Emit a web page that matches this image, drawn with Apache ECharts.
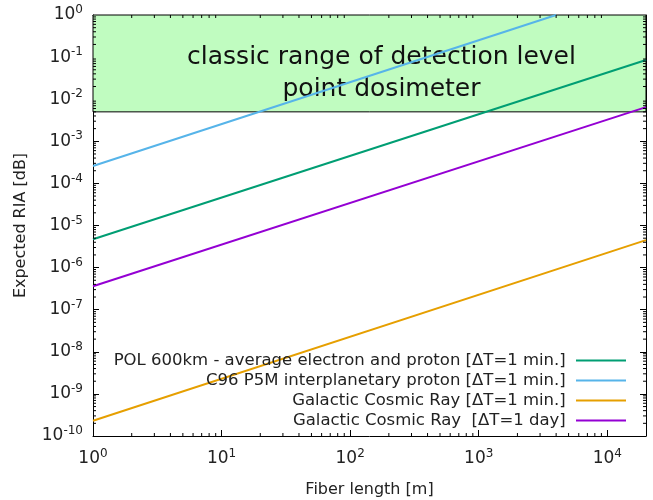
<!DOCTYPE html>
<html>
<head>
<meta charset="utf-8">
<script src="https://cdn.jsdelivr.net/npm/echarts@6/dist/echarts.min.js"></script>
<style>
  html, body { margin: 0; padding: 0; background: #fff; }
</style>
</head>
<body>
<div id="chart" style="width: 653px;height: 500px;"></div>
<script>
// fiber length end points [m] and expected RIA [dB]
var lengthEnds = [1, 20000];
var polValues = [4.7e-6, 0.085];
var c96Lengths = [1, 4000];
var c96Values = [2.6e-4, 1];
var gcrMinValues = [2.3e-10, 4.5e-6];
var gcrDayValues = [3.6e-7, 6.5e-3];

var seriesNames = [
    'POL 600km - average electron and proton [ΔT=1 min.]',
    'C96 P5M interplanetary proton [ΔT=1 min.]',
    'Galactic Cosmic Ray [ΔT=1 min.]',
    'Galactic Cosmic Ray  [ΔT=1 day]'
];
var seriesColors = ['#009e73', '#56b4e9', '#e69f00', '#9400d3'];

// detection band of a classic point dosimeter
var bandLow = 5e-3;
var bandHigh = 1;
var bandText = 'classic range of detection level\npoint dosimeter';

var xMin = 1, xMax = 20000;
var yMin = 1e-10, yMax = 1;

function pairs(xs, ys) {
    return xs.map(function (x, i) { return [x, ys[i]]; });
}

// minor ticks 2..9 x 10^k inside the axis ranges
function minorTicks(lo, hi) {
    var out = [];
    for (var e = Math.floor(Math.log10(lo)); e <= Math.ceil(Math.log10(hi)); e++) {
        for (var m = 2; m <= 9; m++) {
            var v = m * Math.pow(10, e);
            if (v > lo && v < hi) out.push(v);
        }
    }
    return out;
}
var xMinor = minorTicks(xMin, xMax);
var yMinor = minorTicks(yMin, yMax);

function powLabel(v) {
    var e = Math.log10(v);
    var r = Math.round(e);
    if (Math.abs(e - r) > 1e-6) return '';
    return '{b|10}{s|' + r + '}';
}

var labelRich = {
    b: { fontSize: 17, fontFamily: 'DejaVu Sans', color: '#222' },
    s: { fontSize: 12, fontFamily: 'DejaVu Sans', color: '#222', padding: [0, 0, 10, 0] }
};

var myChart = echarts.init(document.getElementById('chart'));

function logAxis(pos, min, max, showLabel) {
    return {
        type: 'log',
        logBase: 10,
        position: pos,
        min: min,
        max: max,
        interval: 1,
        axisLine: { show: true, lineStyle: { color: '#000', width: 1 } },
        axisTick: { show: true, inside: true, length: 6, lineStyle: { color: '#000' } },
        splitLine: { show: false },
        axisLabel: {
            show: showLabel,
            formatter: powLabel,
            rich: labelRich,
            showMaxLabel: true
        }
    };
}

var xBottom = logAxis('bottom', xMin, xMax, true);
xBottom.name = 'Fiber length [m]';
xBottom.nameLocation = 'middle';
xBottom.nameGap = 46;
xBottom.nameTextStyle = { fontSize: 16, fontFamily: 'DejaVu Sans', color: '#222' };
xBottom.axisLabel.margin = 12;
var xTop = logAxis('top', xMin, xMax, false);

var yLeft = logAxis('left', yMin, yMax, true);
yLeft.name = 'Expected RIA [dB]';
yLeft.nameLocation = 'middle';
yLeft.nameGap = 64;
yLeft.nameTextStyle = { fontSize: 16, fontFamily: 'DejaVu Sans', color: '#222' };
yLeft.axisLabel.margin = 10;
var yRight = logAxis('right', yMin, yMax, false);

var lineData = [
    pairs(lengthEnds, polValues),
    pairs(c96Lengths, c96Values),
    pairs(lengthEnds, gcrMinValues),
    pairs(lengthEnds, gcrDayValues)
];

var series = [{
    name: 'band',
    type: 'line',
    data: [],
    z: 1,
    markArea: {
        silent: true,
        itemStyle: { color: '#c0fcc0', borderColor: '#000', borderWidth: 1 },
        label: {
            show: true,
            position: 'inside',
            offset: [12, 10],
            fontSize: 25,
            lineHeight: 32,
            fontFamily: 'DejaVu Sans',
            color: '#111'
        },
        data: [[
            { name: bandText, xAxis: xMin, yAxis: bandLow },
            { xAxis: xMax, yAxis: bandHigh }
        ]]
    }
}];

seriesNames.forEach(function (name, i) {
    series.push({
        name: name,
        type: 'line',
        data: lineData[i],
        symbol: 'none',
        z: 3,
        color: seriesColors[i],
        lineStyle: { width: 2, color: seriesColors[i] },
        animation: false
    });
});

// minor ticks drawn through the axes' own scales
series.push({
    type: 'custom',
    z: 4,
    silent: true,
    data: xMinor.map(function (v) { return [v, 0]; }).concat(yMinor.map(function (v) { return [0, v]; })),
    renderItem: function (params, api) {
        var xv = api.value(0), yv = api.value(1);
        var len = 3;
        var st = { stroke: '#000', lineWidth: 1 };
        if (yv === 0) {
            var b = api.coord([xv, yMin]);
            var t = api.coord([xv, yMax]);
            return { type: 'group', children: [
                { type: 'line', shape: { x1: b[0], y1: b[1], x2: b[0], y2: b[1] - len }, style: st },
                { type: 'line', shape: { x1: t[0], y1: t[1], x2: t[0], y2: t[1] + len }, style: st }
            ] };
        }
        var l = api.coord([xMin, yv]);
        var r = api.coord([xMax, yv]);
        return { type: 'group', children: [
            { type: 'line', shape: { x1: l[0], y1: l[1], x2: l[0] + len, y2: l[1] }, style: st },
            { type: 'line', shape: { x1: r[0], y1: r[1], x2: r[0] - len, y2: r[1] }, style: st }
        ] };
    }
});

var option = {
    animation: false,
    backgroundColor: '#fff',
    textStyle: { fontFamily: 'DejaVu Sans' },
    grid: { left: 93, right: 7, top: 15, bottom: 64, containLabel: false, outerBoundsMode: 'none' },
    legend: {
        data: seriesNames,
        orient: 'vertical',
        align: 'right',
        right: 22,
        top: 347,
        itemWidth: 50,
        itemHeight: 14,
        itemGap: 3,
        icon: 'path://M0,0 L50,0 L50,2 L0,2 Z',
        formatter: function (name) { return name + ' '; },
        textStyle: { fontSize: 16.5, fontFamily: 'DejaVu Sans', color: '#222' }
    },
    xAxis: [xBottom, xTop],
    yAxis: [yLeft, yRight],
    series: series
};

myChart.setOption(option);
</script>
</body>
</html>
